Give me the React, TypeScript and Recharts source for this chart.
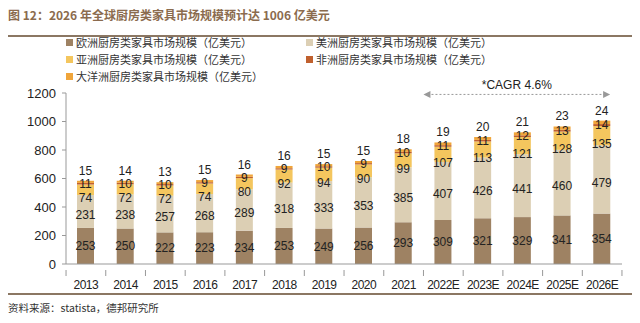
import React from 'react';
import { BarChart, Bar, XAxis, YAxis, LabelList, Legend, ReferenceLine } from 'recharts';

const years = ['2013','2014','2015','2016','2017','2018','2019','2020','2021','2022E','2023E','2024E','2025E','2026E'];
const europe = [253,250,222,223,234,253,249,256,293,309,321,329,341,354];
const america = [231,238,257,268,289,318,333,353,385,407,426,441,460,479];
const asia = [74,72,72,74,80,92,94,90,99,107,113,121,128,135];
const africa = [11,10,10,9,9,9,10,9,10,11,11,12,13,14];
const oceania = [15,14,13,15,16,16,15,15,18,19,20,21,23,24];
const yTicks = [0,200,400,600,800,1000,1200];

const seriesNames = [
  '欧洲厨房类家具市场规模（亿美元）',
  '美洲厨房类家具市场规模（亿美元）',
  '亚洲厨房类家具市场规模（亿美元）',
  '非洲厨房类家具市场规模（亿美元）',
  '大洋洲厨房类家具市场规模（亿美元）',
];
const colors = ['#9E8263', '#DCCFB4', '#F4C65E', '#C0602E', '#F0A53A'];

const data = years.map((y, i) => ({
  year: y,
  europe: europe[i],
  america: america[i],
  asia: asia[i],
  africa: africa[i],
  oceania: oceania[i],
}));

const LABEL_FONT = 'Arial, "Liberation Sans", sans-serif';
const CJK = '"Noto Sans CJK SC", sans-serif';

const BAND = 555 / 14;

const XTick = (props: any) => {
  const { x, y, payload, index } = props;
  return (
    <g>
      <line x1={x - BAND / 2} x2={x - BAND / 2} y1={y - 2} y2={y + 4} stroke="#999" />
      {index === years.length - 1 && (
        <line x1={x + BAND / 2} x2={x + BAND / 2} y1={y - 2} y2={y + 4} stroke="#999" />
      )}
      <text x={x} y={y + 17} textAnchor="middle" fontSize={12} letterSpacing={-0.5} fill="#222" fontFamily={LABEL_FONT}>
        {payload.value}
      </text>
    </g>
  );
};

const LegendContent = () => (
  <div style={{ position: 'relative', width: 640, height: 52, fontFamily: CJK, fontSize: 11, color: '#333' }}>
    {seriesNames.map((n, i) => {
      const col = i % 2;
      const row = Math.floor(i / 2);
      return (
        <div key={n} style={{ position: 'absolute', left: col === 0 ? 66 : 306, top: row * 17, height: 16, display: 'flex', alignItems: 'center', whiteSpace: 'nowrap' }}>
          <span style={{ display: 'inline-block', width: 7, height: 7, background: colors[i], marginRight: 3 }} />
          <span>{n}</span>
        </div>
      );
    })}
  </div>
);

const CagrShape = (props: any) => {
  const { x1, y1, x2 } = props;
  if (x1 == null) return null;
  const a = x1 - BAND / 2;
  const b = x2 + 8;
  const y = y1;
  return (
    <g>
      <line x1={a + 4} x2={b - 4} y1={y} y2={y} stroke="#999" strokeDasharray="2 2" strokeWidth={1} />
      <polygon points={`${a},${y} ${a + 7},${y - 3.5} ${a + 7},${y + 3.5}`} fill="#999" />
      <polygon points={`${b},${y} ${b - 7},${y - 3.5} ${b - 7},${y + 3.5}`} fill="#999" />
      <text x={(a + b) / 2} y={y - 5} textAnchor="middle" fontSize={12} fill="#222" fontFamily={LABEL_FONT}>*CAGR 4.6%</text>
    </g>
  );
};

const lbl = { fontSize: 12, fill: '#222', fontFamily: LABEL_FONT };

export default function App() {
  return (
    <div style={{ position: 'absolute', left: 0, top: 0, width: 640, height: 323, background: '#fff', overflow: 'hidden' }}>
      <div style={{ position: 'absolute', left: 8, top: 6, fontFamily: CJK, fontWeight: 700, fontSize: 12, color: '#8B6B4E', whiteSpace: 'nowrap' }}>
        图 12：2026 年全球厨房类家具市场规模预计达 1006 亿美元
      </div>
      <div style={{ position: 'absolute', left: 8, top: 35, width: 624, height: 2, background: '#8B7763' }} />
      <div style={{ position: 'absolute', left: 8, top: 293, width: 624, height: 2, background: '#8B7763' }} />
      <div style={{ position: 'absolute', left: 8, top: 300, fontFamily: CJK, fontSize: 10.5, color: '#333', whiteSpace: 'nowrap' }}>
        资料来源：statista，德邦研究所
      </div>
      <div style={{ position: 'absolute', left: 0, top: 0 }}>
        <BarChart width={640} height={323} data={data} margin={{ top: 93, right: 18, bottom: 29, left: 0 }} barSize={17}>
          <Legend verticalAlign="middle" align="center" layout="horizontal" content={LegendContent} wrapperStyle={{ position: 'absolute', top: 34, left: 0, width: 640 }} />
          <YAxis
            domain={[0, 1200]}
            ticks={yTicks}
            width={66}
            tickSize={4}
            tickMargin={6}
            axisLine={{ stroke: '#999' }}
            tickLine={{ stroke: '#999' }}
            tick={{ fontSize: 13, fill: '#222', fontFamily: LABEL_FONT }}
          />
          <XAxis
            dataKey="year"
            height={30}
            axisLine={{ stroke: '#999' }}
            tickLine={false}
            interval={0}
            tick={<XTick />}
          />
          <Bar dataKey="europe" stackId="a" fill={colors[0]} isAnimationActive={false}>
            <LabelList dataKey="europe" position="center" {...lbl} />
          </Bar>
          <Bar dataKey="america" stackId="a" fill={colors[1]} isAnimationActive={false}>
            <LabelList dataKey="america" position="center" dy={3} {...lbl} />
          </Bar>
          <Bar dataKey="asia" stackId="a" fill={colors[2]} isAnimationActive={false}>
            <LabelList dataKey="asia" position="center" dy={8} {...lbl} />
          </Bar>
          <Bar dataKey="africa" stackId="a" fill={colors[3]} isAnimationActive={false}>
            <LabelList dataKey="africa" position="center" {...lbl} />
          </Bar>
          <Bar dataKey="oceania" stackId="a" fill={colors[4]} isAnimationActive={false}>
            <LabelList dataKey="oceania" position="top" offset={6} {...lbl} />
          </Bar>
          <ReferenceLine
            segment={[{ x: '2022E', y: 1190 }, { x: '2026E', y: 1190 }]}
            ifOverflow="visible"
            shape={<CagrShape />}
          />
        </BarChart>
      </div>
    </div>
  );
}
